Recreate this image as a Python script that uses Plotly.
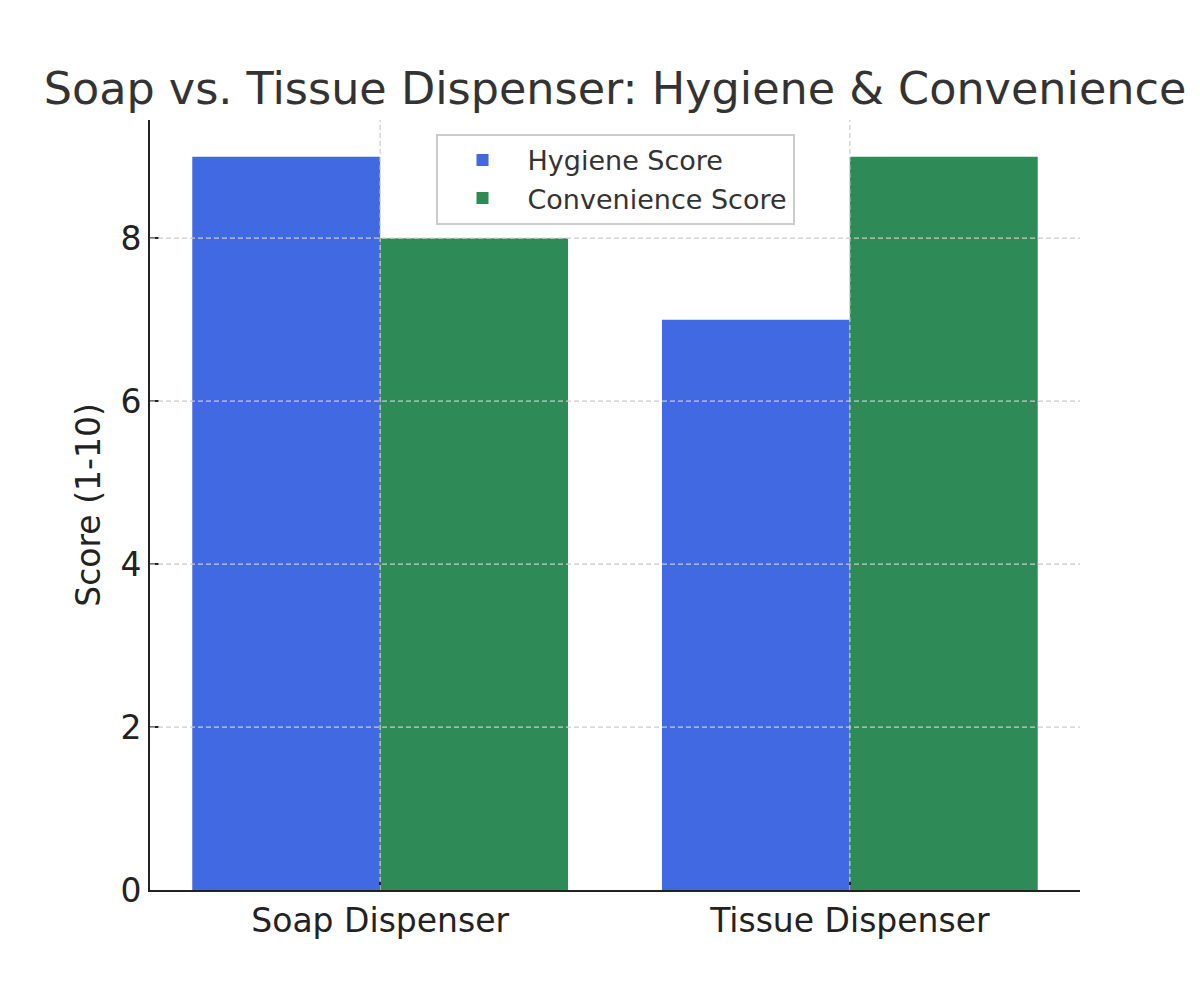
import plotly.graph_objects as go

categories = ["Soap Dispenser", "Tissue Dispenser"]
hygiene_scores = [9, 7]
convenience_scores = [8, 9]
series_names = ["Hygiene Score", "Convenience Score"]
y_ticks = [0, 2, 4, 6, 8]

FONT = "DejaVu Sans, sans-serif"
GRID = "#cccccc"

fig = go.Figure()
fig.add_trace(go.Bar(x=categories, y=hygiene_scores, name=series_names[0],
                     marker=dict(color="#4169E1", line=dict(width=0))))
fig.add_trace(go.Bar(x=categories, y=convenience_scores, name=series_names[1],
                     marker=dict(color="#2E8B57", line=dict(width=0))))

# dashed grid drawn above the bars (as in the reference)
for yv in y_ticks[1:]:
    fig.add_shape(type="line", xref="paper", yref="y", x0=0, x1=1, y0=yv, y1=yv,
                  line=dict(color=GRID, width=1.2, dash="5px,3px"), layer="above")
for c in categories:
    fig.add_shape(type="line", xref="x", yref="paper", x0=c, x1=c, y0=0, y1=1,
                  line=dict(color=GRID, width=1.2, dash="5px,3px"), layer="above")

fig.update_layout(
    width=1200, height=1000,
    margin=dict(l=150, r=120, t=120, b=110),
    paper_bgcolor="white", plot_bgcolor="white",
    barmode="group", bargap=0.2, bargroupgap=0,
    font=dict(family=FONT, color="#222222"),
    title=dict(text="Soap vs. Tissue Dispenser: Hygiene & Convenience",
               x=0.5125, xanchor="center", y=0.912, yanchor="middle",
               font=dict(size=44.5, color="#333333", family=FONT)),
    legend=dict(x=0.5, xanchor="center", y=0.982, yanchor="top",
                bgcolor="white", bordercolor="#cccccc", borderwidth=2,
                font=dict(size=27, color="#333333", family=FONT),
                itemwidth=80, tracegroupgap=4),
    showlegend=True,
)

fig.update_xaxes(
    type="category", range=[-0.49, 1.49],
    showline=True, linecolor="#222222", linewidth=2,
    ticks="inside", ticklen=9, tickwidth=2, tickcolor="#222222",
    showgrid=False,
    tickfont=dict(size=33, color="#222222"),
    layer="above traces", zeroline=False,
)
fig.update_yaxes(
    range=[0, 9.45], tickvals=y_ticks,
    showline=True, linecolor="#222222", linewidth=2,
    ticks="inside", ticklen=9, tickwidth=2, tickcolor="#222222",
    showgrid=False,
    tickfont=dict(size=33, color="#222222"),
    title=dict(text="Score (1-10)", font=dict(size=33, color="#222222"), standoff=10),
    layer="above traces", zeroline=False,
)

fig.write_html("out.html")
